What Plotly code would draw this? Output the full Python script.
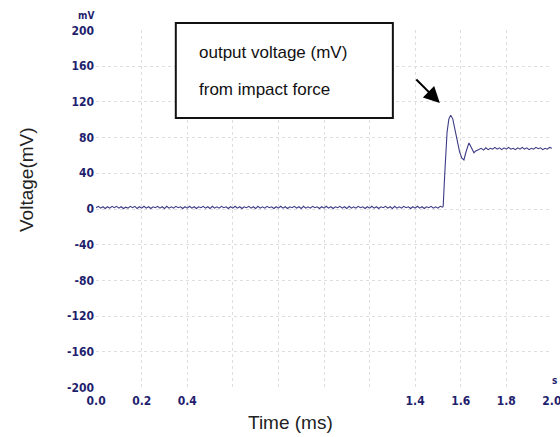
import numpy as np
import plotly.graph_objects as go

# ---------------- data ----------------
SAMPLE_STEP_MS = 0.01

# baseline before the impact: 0.00 .. 1.52 ms (153 samples)
baseline_mv = [
    1.5, 3.0, 1.0, 2.5, 0.5, 2.5, 1.0, 3.0, 1.5,
    3.0, 1.0, 2.5, 0.5, 2.0, 1.0, 3.0, 1.5, 3.0,
    0.5, 2.5, 1.0, 3.0, 1.0, 2.5, 0.5, 2.5, 1.5,
    3.0, 1.0, 2.5, 0.5, 3.0, 1.0, 2.5, 1.0, 3.0,
    1.5, 2.5, 0.5, 2.5, 1.0, 3.0, 1.0, 2.5, 0.5,
    2.5, 1.5, 3.0, 1.0, 2.5, 0.5, 3.0, 1.0, 2.5,
    1.0, 3.0, 1.5, 2.5, 0.5, 2.5, 1.0, 3.0, 1.0,
    2.5, 0.5, 2.5, 1.5, 3.0, 1.0, 2.5, 0.5, 3.0,
    1.0, 2.5, 1.0, 3.0, 1.5, 2.5, 0.5, 2.5, 1.0,
    3.0, 1.0, 2.5, 0.5, 2.5, 1.5, 3.0, 1.0, 2.5,
    0.5, 3.0, 1.0, 2.5, 1.0, 3.0, 1.5, 2.5, 0.5,
    2.5, 1.0, 3.0, 1.0, 2.5, 0.5, 2.5, 1.5, 3.0,
    1.0, 2.5, 0.5, 3.0, 1.0, 2.5, 1.0, 3.0, 1.5,
    2.5, 0.5, 2.5, 1.0, 3.0, 1.0, 2.5, 0.5, 2.5,
    1.5, 3.0, 1.0, 2.5, 0.5, 3.0, 1.0, 2.5, 1.0,
    3.0, 1.5, 2.5, 0.5, 2.5, 1.0, 3.0, 1.0, 2.5,
    0.5, 2.5, 1.5, 3.0, 1.0, 2.5, 1.0, 3.0, 2.0,
]

# impact transient
transient_ms = [1.523, 1.530, 1.540, 1.548, 1.556, 1.565, 1.575, 1.585,
                1.595, 1.605, 1.614, 1.622, 1.630, 1.636, 1.642, 1.650,
                1.658, 1.666, 1.674]
transient_mv = [3.0, 40.0, 86.0, 101.0, 105.0, 101.0, 89.0, 75.0,
                64.0, 57.0, 55.0, 63.0, 71.0, 74.0, 71.0, 66.0,
                63.0, 65.0, 66.0]

# settled level: 1.68 .. 2.00 ms (33 samples)
settled_mv = [
    66.5, 68.0, 66.0, 68.5, 66.5, 68.0, 67.0, 69.0, 67.0,
    68.5, 66.5, 68.5, 67.0, 69.0, 67.0, 68.0, 66.5, 68.5,
    67.0, 69.0, 67.0, 68.5, 66.5, 68.0, 67.0, 69.0, 67.5,
    68.5, 66.5, 68.0, 67.0, 69.0, 68.0,
]

x_tick_vals = [0.0, 0.2, 0.4, 0.6, 0.8, 1.0, 1.2, 1.4, 1.6, 1.8, 2.0]
x_tick_text = ["0.0", "0.2", "0.4", "", "", "", "", "1.4", "1.6", "1.8", "2.0"]
y_tick_vals = [-200, -160, -120, -80, -40, 0, 40, 80, 120, 160, 200]
y_tick_text = [str(v) for v in y_tick_vals]

# ---------------- assemble series ----------------
baseline_ms = np.round(np.arange(len(baseline_mv)) * SAMPLE_STEP_MS, 4)
settled_ms = np.round(1.68 + np.arange(len(settled_mv)) * SAMPLE_STEP_MS, 4)
time_ms = list(baseline_ms) + transient_ms + list(settled_ms)
volt_mv = baseline_mv + transient_mv + settled_mv

TICK_FONT = dict(family="Liberation Sans Narrow, DejaVu Sans Condensed, sans-serif",
                 size=12, color="#1f1f6e", weight="bold")
TEXT_FONT = dict(family="Liberation Sans, Arial, sans-serif", size=17, color="#111111")
TITLE_FONT = dict(family="Liberation Sans, Arial, sans-serif", size=19, color="#222222")

fig = go.Figure()
fig.add_trace(go.Scatter(
    x=time_ms, y=volt_mv, mode="lines",
    line=dict(color="#3b3b86", width=1.1),
    hoverinfo="skip", showlegend=False,
))

grid = dict(showgrid=True, gridcolor="#dedede", griddash="dot", gridwidth=1,
            zeroline=False, showline=False, ticks="", automargin=False)

fig.update_xaxes(range=[-0.0005, 2.0005], tickvals=x_tick_vals, ticktext=x_tick_text,
                 tickfont=TICK_FONT, ticklabelstandoff=4, ticklabeloverflow="allow",
                 **grid)
fig.update_yaxes(range=[-200.5, 200.5], tickvals=y_tick_vals, ticktext=y_tick_text,
                 tickfont=TICK_FONT, ticklabelstandoff=1, ticklabeloverflow="allow",
                 **grid)

# text box
fig.add_shape(type="rect", xref="paper", yref="paper",
              x0=0.175, x1=0.651, y0=0.754, y1=1.0196,
              line=dict(color="#111111", width=2), fillcolor="white", layer="above")
fig.add_annotation(xref="paper", yref="paper", x=0.221, y=0.9385, xanchor="left",
                   yanchor="middle", text="output voltage (mV)", showarrow=False,
                   font=TEXT_FONT)
fig.add_annotation(xref="paper", yref="paper", x=0.221, y=0.835, xanchor="left",
                   yanchor="middle", text="from impact force", showarrow=False,
                   font=TEXT_FONT)

# arrow
fig.add_annotation(xref="paper", yref="paper", x=0.754, y=0.796, ax=-25, ay=-25,
                   text="", showarrow=True, arrowhead=2, arrowsize=1.6,
                   arrowwidth=2, arrowcolor="#000000")

# unit labels
fig.add_annotation(xref="paper", yref="paper", x=0.0, y=(388 - 15) / 358,
                   xanchor="right", yanchor="middle", text="mV",
                   showarrow=False, font=dict(TICK_FONT, size=10))
fig.add_annotation(xref="paper", yref="paper", x=(554 - 96) / 456, y=(388 - 380) / 358,
                   xanchor="center", yanchor="middle", text="s",
                   showarrow=False, font=dict(TICK_FONT, size=10))

# axis titles
fig.add_annotation(xref="paper", yref="paper", x=(290 - 96) / 456, y=(388 - 422) / 358,
                   xanchor="center", yanchor="middle",
                   text="Time (ms)", showarrow=False, font=TITLE_FONT)
fig.add_annotation(xref="paper", yref="paper", x=(27 - 96) / 456, y=(388 - 180) / 358,
                   xanchor="center", yanchor="middle",
                   text="Voltage(mV)", showarrow=False, textangle=-90, font=TITLE_FONT)

fig.update_layout(
    width=560, height=437,
    margin=dict(l=96, r=8, t=30, b=49),
    paper_bgcolor="white", plot_bgcolor="white",
)

fig.write_html("out.html")
